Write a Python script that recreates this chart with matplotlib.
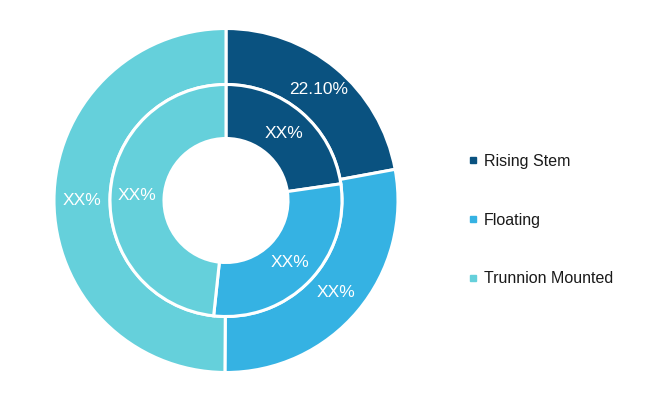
import matplotlib
matplotlib.use("Agg")
import matplotlib.pyplot as plt
from matplotlib.lines import Line2D
import numpy as np

categories = ["Rising Stem", "Floating", "Trunnion Mounted"]
outer_values = [22.10, 28.0, 49.9]
inner_values = [22.7, 29.0, 48.3]
outer_labels = ["22.10%", "XX%", "XX%"]
inner_labels = ["XX%", "XX%", "XX%"]
colors = ["#0A5280", "#35B2E3", "#65D0DB"]

plt.rcParams['font.family'] = ['Liberation Sans', 'DejaVu Sans']

W, H = 666, 395
fig = plt.figure(figsize=(W / 100, H / 100), dpi=100)
cx, cy, R = 226, 200.5, 172
half = 176
ax = fig.add_axes([(cx - half) / W, (H - cy - half) / H, 2 * half / W, 2 * half / H])
lim = half / R
ax.set_aspect('equal')
ax.axis('off')

r_in_outer = 116 / R
r_hole = 62 / R

wedges_o, _ = ax.pie(outer_values, radius=1.0, colors=colors, startangle=90, counterclock=False,
                     wedgeprops=dict(width=1 - r_in_outer, edgecolor='white', linewidth=2.2))
wedges_i, _ = ax.pie(inner_values, radius=r_in_outer, colors=colors, startangle=90, counterclock=False,
                     wedgeprops=dict(width=r_in_outer - r_hole, edgecolor='white', linewidth=2.2))
ax.set_xlim(-lim, lim)
ax.set_ylim(-lim, lim)

def place(wedges, labels, rad):
    for w, lab in zip(wedges, labels):
        ang = np.deg2rad((w.theta1 + w.theta2) / 2)
        ax.text(rad * np.cos(ang), rad * np.sin(ang), lab, ha='center', va='center',
                color='white', fontsize=12.5)

place(wedges_o, outer_labels, 144 / R)
place(wedges_i, inner_labels, 89 / R)

handles = [Line2D([], [], marker='s', linestyle='none', markersize=4.5, color=c) for c in colors]
leg = fig.legend(handles, categories, loc='center left', bbox_to_anchor=(452 / W, (H - 220) / H),
                 frameon=False, fontsize=11.5, labelspacing=2.75, handletextpad=0.3,
                 handlelength=0.8, labelcolor='#1a1a1a')

fig.savefig("out.png", dpi=100)
